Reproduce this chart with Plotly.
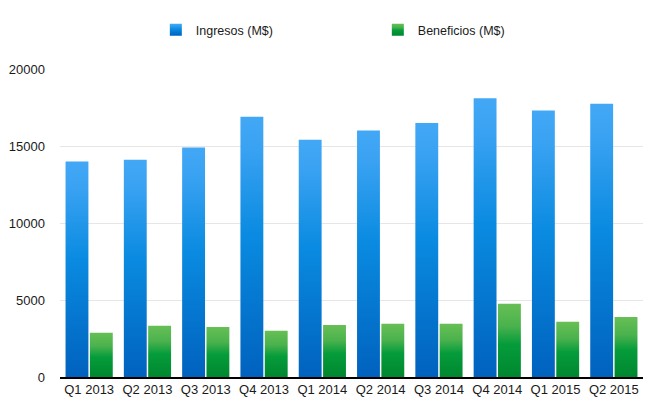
import plotly.graph_objects as go

categories = ["Q1 2013", "Q2 2013", "Q3 2013", "Q4 2013", "Q1 2014",
              "Q2 2014", "Q3 2014", "Q4 2014", "Q1 2015", "Q2 2015"]
ingresos = [14000, 14100, 14900, 16900, 15400, 16000, 16500, 18100, 17300, 17750]
beneficios = [2870, 3320, 3250, 3000, 3380, 3450, 3450, 4750, 3580, 3900]
y_ticks = [0, 5000, 10000, 15000, 20000]

fig = go.Figure()
fig.add_trace(go.Bar(x=categories, y=ingresos, name="Ingresos (M$)",
                     marker=dict(color="#0A84DC", line=dict(width=0))))
fig.add_trace(go.Bar(x=categories, y=beneficios, name="Beneficios (M$)",
                     marker=dict(color="#1FA043", line=dict(width=0))))

fig.update_layout(
    width=652, height=400,
    margin=dict(l=60, r=9, t=69, b=23, autoexpand=False),
    paper_bgcolor="white", plot_bgcolor="white",
    barmode="group", bargap=0.165, bargroupgap=0.06,
    font=dict(family="Liberation Sans, Arial, sans-serif", size=13, color="#1a1a1a"),
    showlegend=True,
    legend=dict(orientation="h", xref="container", yref="container",
                x=0.239, xanchor="left", y=0.925, yanchor="middle",
                entrywidth=177, font=dict(size=12.5, color="#1a1a1a"),
                bgcolor="rgba(0,0,0,0)", itemwidth=30),
    hovermode=False,
)
fig.update_xaxes(showline=True, linecolor="#000000", linewidth=1.5, automargin=False,
                 ticks="", showgrid=False, tickfont=dict(size=13))
fig.update_yaxes(range=[0, 20000], tickvals=y_ticks, ticktext=[str(v) for v in y_ticks],
                 showgrid=True, gridcolor="#E6E6E6", gridwidth=1, zeroline=False,
                 automargin=False,
                 showline=False, ticks="", ticklabelstandoff=14, tickfont=dict(size=13))

post_js = """
var gd = document.getElementById('{plot_id}');
var ns = 'http://www.w3.org/2000/svg';
var svg = gd.querySelector('svg.main-svg');
var defs = svg.querySelector('defs');
if (!defs) { defs = document.createElementNS(ns, 'defs'); svg.insertBefore(defs, svg.firstChild); }
function mk(id, stops) {
  var g = document.createElementNS(ns, 'linearGradient');
  g.setAttribute('id', id);
  g.setAttribute('x1', '0'); g.setAttribute('y1', '0');
  g.setAttribute('x2', '0'); g.setAttribute('y2', '1');
  stops.forEach(function(s) {
    var st = document.createElementNS(ns, 'stop');
    st.setAttribute('offset', s[0]);
    st.setAttribute('stop-color', s[1]);
    g.appendChild(st);
  });
  defs.appendChild(g);
}
mk('gradBlue', [['0', '#42A8F6'], ['0.12', '#3AA2F2'], ['0.45', '#0A8BE1'], ['1', '#0062BE']]);
mk('gradGreen', [['0', '#67BF55'], ['0.3', '#4BB24D'], ['0.55', '#059C3B'], ['1', '#00872F']]);
var ids = ['gradBlue', 'gradGreen'];
var traces = gd.querySelectorAll('.barlayer .trace');
traces.forEach(function(t, i) {
  t.querySelectorAll('path').forEach(function(p) { p.style.fill = 'url(#' + ids[i] + ')'; });
});
var leg = gd.querySelectorAll('.legend .traces');
leg.forEach(function(t, i) {
  t.querySelectorAll('.legendpoints path').forEach(function(p) { p.style.fill = 'url(#' + ids[i] + ')'; });
});
"""

fig.write_html("out.html", post_script=post_js)
